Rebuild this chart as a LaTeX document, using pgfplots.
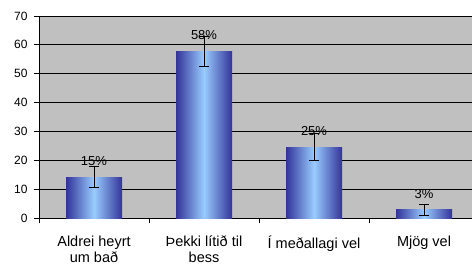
\documentclass[border=0pt]{standalone}
\usepackage{pgfplots}
\pgfplotsset{compat=1.18}
\usepackage{fontspec}
\setmainfont{Liberation Sans}
\definecolor{bgray}{HTML}{C0C0C0}
\definecolor{bdark}{HTML}{333399}
\definecolor{blight}{HTML}{99CCFF}
\pgfplotsset{
  mybar/.style={ybar, bar width=56pt, bar shift=0pt, draw=none,
    left color=bdark, right color=bdark, middle color=blight,
    point meta=explicit,
    nodes near coords={\pgfmathprintnumber[fixed,precision=0]{\pgfplotspointmeta}\%},
    every node near coord/.append style={anchor=center, yshift=16pt, font=\fontsize{13}{13}\selectfont, black},
    error bars/.cd, y dir=both, y explicit,
    error bar style={black, line width=0.8pt},
    error mark options={rotate=90, mark size=5pt, line width=0.8pt, black}},
}
\begin{document}
\begin{tikzpicture}
\begin{axis}[
  scale only axis,
  width=433pt, height=202pt,
  xmin=-0.5, xmax=3.436,
  ymin=0, ymax=70,
  ytick={0,10,...,70},
  xtick={0,1,2,3},
  xticklabels={{Aldrei heyrt\\um bað},{Þekki lítið til\\bess},{Í meðallagi vel},{Mjög vel}},
  xticklabel style={align=center, font=\fontsize{14.5}{16}\selectfont, yshift=-9pt},
  yticklabel style={font=\fontsize{12}{12}\selectfont, xshift=-3pt},
  /pgf/number format/assume math mode=true,
  axis lines*=left,
  axis line style={black, line width=0.8pt},
  xtick style={draw=none},
  ytick style={black, line width=0.8pt},
  tick align=outside,
  major tick length=5pt,
  extra x ticks={-0.5,0.5,1.5,2.5},
  extra x tick labels={},
  extra x tick style={xtick style={draw=black, line width=0.8pt}, major tick length=5pt, tick align=outside},
  ymajorgrids,
  major grid style={black, line width=0.8pt},
  axis background/.style={fill=bgray},
  clip=false,
]
\addplot[mybar] table[x=x, y=y, y error=e, meta=m] {
x y e m
0 14.2 3.7 15
};
\addplot[mybar] table[x=x, y=y, y error=e, meta=m] {
x y e m
1 57.8 5.2 58
};
\addplot[mybar] table[x=x, y=y, y error=e, meta=m] {
x y e m
2 24.6 4.7 25
};
\addplot[mybar] table[x=x, y=y, y error=e, meta=m] {
x y e m
3 2.8 1.8 3
};
\end{axis}
\pgfresetboundingbox
\useasboundingbox ([xshift=-39pt, yshift=-48pt]current axis.south west) rectangle ++(472pt,266pt);
\end{tikzpicture}
\end{document}
